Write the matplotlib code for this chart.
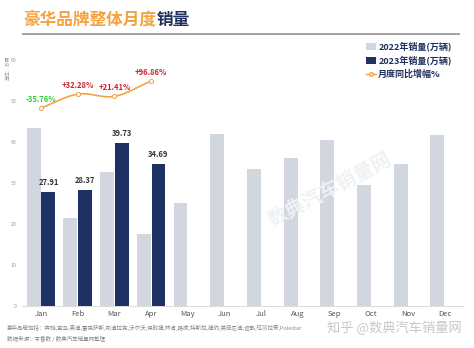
import numpy as np
import matplotlib
matplotlib.use("Agg")
import matplotlib.pyplot as plt
from matplotlib.patches import Patch
from matplotlib.lines import Line2D

plt.rcParams['font.family'] = ['Noto Sans CJK SC', 'DejaVu Sans']

months = ["Jan", "Feb", "Mar", "Apr", "May", "Jun", "Jul", "Aug", "Sep", "Oct", "Nov", "Dec"]
sales_2022 = [43.44, 21.45, 32.72, 17.62, 25.2, 41.9, 33.3, 36.2, 40.5, 29.6, 34.6, 41.8]
sales_2023 = [27.91, 28.37, 39.73, 34.69]
growth = [-35.76, 32.28, 21.41, 96.86]
y_ticks = [0, 10, 20, 30, 40, 50, 60]

W, H = 474, 348
fig = plt.figure(figsize=(W / 100, H / 100), dpi=100)
fig.patch.set_facecolor("white")

def fx(px):
    return px / W

def fy(py):
    return 1 - py / H

# title
fig.text(fx(23), fy(20), "豪华品牌整体月度", fontsize=12, fontweight="bold",
         color="#F4A340", va="center", ha="left")
fig.text(fx(23 + 8 * 16.7), fy(20), "销量", fontsize=12, fontweight="bold",
         color="#1E2F5C", va="center", ha="left")
fig.add_artist(Line2D([fx(23), fx(459)], [fy(34), fy(34)], color="#9a9a9a", lw=1.3))

light = "#D2D7DF"
navy = "#1E3163"
orange = "#F4A340"

ax = fig.add_axes([fx(22), fy(306), fx(463) - fx(22), fy(60) - fy(306)])
x = np.arange(len(months))
ax.bar(x - 0.2, sales_2022, width=0.38, color=light, zorder=2)
x23 = np.arange(len(sales_2023))
ax.bar(x23 + 0.2, sales_2023, width=0.38, color=navy, zorder=3)
for xi, v in zip(x23, sales_2023):
    ax.text(xi + 0.2, v + 1.2, f"{v:.2f}", ha="center", va="bottom",
            fontsize=5.5, fontweight="bold", color="#333333")

ax.set_xlim(-0.52, 11.5)
ax.set_ylim(0, 60)
ax.set_yticks(y_ticks)
ax.set_yticklabels([str(t) for t in y_ticks], fontsize=3.8, color="#999999")
ax.set_xticks(x)
ax.set_xticklabels(months, fontsize=5.5, color="#555555")
ax.tick_params(axis="both", length=0, pad=3)
ax.tick_params(axis="y", pad=4)
for s in ["top", "right", "left"]:
    ax.spines[s].set_visible(False)
ax.spines["bottom"].set_color("#dddddd")
ax.spines["bottom"].set_linewidth(0.8)
ax.set_facecolor("none")

fig.text(fx(8), fy(68), "单位：万辆", rotation=90, fontsize=3.5, color="#999999",
         ha="center", va="center")

# growth line on secondary axis
ax2 = ax.twinx()
ax2.set_ylim(-1008, 200)
ax2.set_xlim(ax.get_xlim())
ax2.axis("off")

def catmull(xs, ys, n=30):
    xs = np.asarray(xs, float); ys = np.asarray(ys, float)
    px = np.concatenate([[2 * xs[0] - xs[1]], xs, [2 * xs[-1] - xs[-2]]])
    py = np.concatenate([[2 * ys[0] - ys[1]], ys, [2 * ys[-1] - ys[-2]]])
    ox, oy = [], []
    for i in range(1, len(px) - 2):
        t = np.linspace(0, 1, n)
        for arr, out in ((px, ox), (py, oy)):
            p0, p1, p2, p3 = arr[i - 1], arr[i], arr[i + 1], arr[i + 2]
            out.extend(0.5 * ((2 * p1) + (-p0 + p2) * t +
                              (2 * p0 - 5 * p1 + 4 * p2 - p3) * t ** 2 +
                              (-p0 + 3 * p1 - 3 * p2 + p3) * t ** 3))
    return np.array(ox), np.array(oy)

sx, sy = catmull(x23, growth)
ax2.plot(sx, sy, color=orange, lw=1.2, zorder=4)
ax2.plot(x23, growth, ls="none", marker="o", ms=3, mfc="white", mec=orange,
         mew=0.7, zorder=5)
for xi, g in zip(x23, growth):
    col = "#33CC33" if g < 0 else "#D0202A"
    ax2.annotate(f"{g:+.2f}%", (xi, g), xytext=(0, 3), textcoords="offset points",
                 ha="center", va="bottom", fontsize=5.5, fontweight="bold", color=col)

# legend
handles = [Patch(facecolor=light, edgecolor="none"),
           Patch(facecolor=navy, edgecolor="none"),
           Line2D([0], [0], color=orange, lw=1, marker="o", ms=2.5, mfc="white", mec=orange)]
labels = ["2022年销量(万辆)", "2023年销量(万辆)", "月度同比增幅%"]
leg = fig.legend(handles, labels, loc="upper left", bbox_to_anchor=(fx(362), fy(38)),
                 frameon=False, fontsize=6.5, handlelength=1.2, handleheight=0.8,
                 handletextpad=0.2, labelspacing=0.45, borderaxespad=0)
for t in leg.get_texts():
    t.set_color("#1E2F5C")
    t.set_fontweight("bold")

# faint watermark
fig.text(fx(330), fy(190), "数典汽车销量网", rotation=28, fontsize=14, color="#EFF1F4",
         fontweight="bold", ha="center", va="center", zorder=0)

# footer
fig.text(fx(7), fy(328), "豪华品牌包括：奔驰,宝马,奥迪,雷克萨斯,凯迪拉克,沃尔沃,保时捷,林肯,路虎,特斯拉,捷豹,英菲尼迪,讴歌,玛莎拉蒂,Polestar",
         fontsize=4, color="#888888", ha="left", va="center")
fig.text(fx(7), fy(339), "数据来源：零售数 / 数典汽车销量网整理",
         fontsize=4, color="#888888", ha="left", va="center")
fig.text(fx(462), fy(328), "知乎 @数典汽车销量网", fontsize=9.5, color="#C8C8C8",
         ha="right", va="center")

fig.savefig("out.png", dpi=100, facecolor="white")
